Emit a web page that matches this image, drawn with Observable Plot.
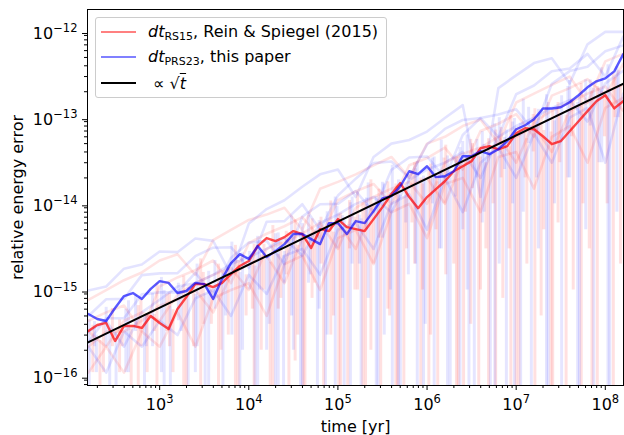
<!DOCTYPE html>
<html>
<head>
<meta charset="utf-8">
<script src="https://cdn.jsdelivr.net/npm/d3@7"></script>
<script src="https://cdn.jsdelivr.net/npm/@observablehq/plot@0.6"></script>
<style>
  html, body { margin: 0; padding: 0; background: white; }
  #wrap { position: relative; width: 624px; height: 435px; font-family: "DejaVu Sans", sans-serif; }
  #legend {
    position: absolute; left: 95px; top: 17px; width: 290px; height: 79px;
    border: 1px solid #cccccc; border-radius: 3px; background: rgba(255,255,255,0.8);
    font-size: 16px; color: #000;
  }
  .row { position: absolute; left: 0; height: 20px; display: flex; align-items: center; white-space: nowrap; }
  .sw { display: inline-block; width: 35px; height: 2px; margin-left: 5px; margin-right: 12px; }
  .row i { font-style: italic; }
  .row sub { font-size: 11px; vertical-align: -3px; }
  .sq { text-decoration: overline; font-style: italic; }
</style>
</head>
<body>
<div id="wrap">
  <div id="chart"></div>
  <div id="legend">
    <div class="row" style="top:4px"><span class="sw" style="background:#ff8080"></span><span><i>dt</i><sub>RS15</sub>, Rein &amp; Spiegel (2015)</span></div>
    <div class="row" style="top:29px"><span class="sw" style="background:#8080ff"></span><span><i>dt</i><sub>PRS23</sub>, this paper</span></div>
    <div class="row" style="top:55px"><span class="sw" style="background:#000"></span><span>&nbsp;∝ √<span class="sq">t</span></span></div>
  </div>
</div>
<script>
// ---- data ----
const timeBold = [158.5, 199.5, 251.2, 316.2, 398.1, 501.2, 631.0, 794.3,
  1.000e3, 1.259e3, 1.585e3, 1.995e3, 2.512e3, 3.162e3, 3.981e3, 5.012e3, 6.310e3, 7.943e3,
  1.000e4, 1.259e4, 1.585e4, 1.995e4, 2.512e4, 3.162e4, 3.981e4, 5.012e4, 6.310e4, 7.943e4,
  1.000e5, 1.259e5, 1.585e5, 1.995e5, 2.512e5, 3.162e5, 3.981e5, 5.012e5, 6.310e5, 7.943e5,
  1.000e6, 1.259e6, 1.585e6, 1.995e6, 2.512e6, 3.162e6, 3.981e6, 5.012e6, 6.310e6, 7.943e6,
  1.000e7, 1.259e7, 1.585e7, 1.995e7, 2.512e7, 3.162e7, 3.981e7, 5.012e7, 6.310e7, 7.943e7,
  1.000e8, 1.259e8, 1.585e8];

const boldPRS23 = [5.27e-16, 4.61e-16, 4.37e-16, 6.18e-16, 8.51e-16, 9.23e-16, 7.87e-16, 1.03e-15,
  1.27e-15, 1.21e-15, 9.23e-16, 9.74e-16, 1.21e-15, 1.17e-15, 7.87e-16, 1.34e-15, 2.05e-15, 2.61e-15,
  2.29e-15, 3.24e-15, 2.41e-15, 2.83e-15, 3.41e-15, 4.46e-15, 4.46e-15, 3.90e-15, 3.41e-15, 5.98e-15,
  5.98e-15, 4.46e-15, 6.31e-15, 5.98e-15, 8.23e-15, 1.16e-14, 1.23e-14, 1.60e-14, 2.39e-14, 2.21e-14,
  2.73e-14, 2.04e-14, 2.09e-14, 2.39e-14, 3.57e-14, 3.57e-14, 4.08e-14, 3.77e-14, 4.30e-14, 5.33e-14,
  7.34e-14, 8.17e-14, 9.58e-14, 1.28e-13, 1.28e-13, 1.32e-13, 1.51e-13, 1.82e-13, 2.25e-13, 2.64e-13,
  2.86e-13, 3.45e-13, 5.43e-13];

const boldRS15 = [3.35e-16, 3.93e-16, 4.15e-16, 2.56e-16, 3.83e-16, 3.83e-16, 3.63e-16, 5.0e-16,
  4.15e-16, 3.53e-16, 6.02e-16, 8.30e-16, 1.17e-15, 1.17e-15, 1.08e-15, 1.21e-15, 1.53e-15, 1.90e-15,
  2.17e-15, 3.24e-15, 4.01e-15, 3.70e-15, 4.11e-15, 4.83e-15, 4.46e-15, 3.07e-15, 5.09e-15, 4.83e-15,
  6.65e-15, 5.37e-15, 5.09e-15, 4.83e-15, 6.65e-15, 9.16e-15, 1.30e-14, 1.74e-14, 1.20e-14, 8.92e-15,
  1.20e-14, 1.48e-14, 1.83e-14, 2.39e-14, 2.73e-14, 3.13e-14, 4.42e-14, 4.67e-14, 4.30e-14, 4.67e-14,
  6.59e-14, 7.54e-14, 7.34e-14, 6.09e-14, 4.92e-14, 5.33e-14, 6.95e-14, 9.08e-14, 1.19e-13, 1.55e-13,
  1.82e-13, 1.28e-13, 1.55e-13];

// faint individual runs (upper parts), on a coarser time grid
const timeFaint = [158.5, 251.2, 398.1, 631.0,
  1.000e3, 1.585e3, 2.512e3, 3.981e3, 6.310e3,
  1.000e4, 1.585e4, 2.512e4, 3.981e4, 6.310e4,
  1.000e5, 1.585e5, 2.512e5, 3.981e5, 6.310e5,
  1.000e6, 1.585e6, 2.512e6, 3.981e6, 6.310e6,
  1.000e7, 1.585e7, 2.512e7, 3.981e7, 6.310e7,
  1.000e8, 1.585e8];

const blueFaint1 = [9.9e-16, 1.1e-15, 1.77e-15, 1.98e-15, 2.8e-15, 2.75e-15, 3.96e-15, 3.72e-15, 1.5e-15, 5.9e-15, 8.7e-15, 1.1e-14, 1.58e-14, 2.2e-14, 2.5e-14, 1.2e-14, 3.5e-14, 5e-14, 5.5e-14, 6.9e-14, 9.9e-14, 1.4e-13, 1.2e-14, 2.2e-13, 3.1e-13, 4.3e-13, 4.9e-13, 2.5e-13, 7.1e-13, 9.9e-13, 9.9e-13];
const blueFaint2 = [5e-16, 7.8e-16, 7.9e-16, 1.49e-15, 1.56e-15, 1.57e-15, 2.47e-15, 3.1e-15, 3.14e-15, 1.8e-15, 6.2e-15, 6.3e-15, 9.9e-15, 5e-15, 1.25e-14, 1.96e-14, 2.97e-14, 3.1e-14, 2e-14, 4.9e-14, 7.4e-14, 9.4e-14, 9.9e-14, 6e-14, 1.87e-13, 2.36e-13, 3.46e-13, 3.72e-13, 5.5e-13, 3e-13, 8.7e-13];
const blueFaint3 = [2.5e-16, 4.7e-16, 4.7e-16, 8.9e-16, 9.4e-16, 9.4e-16, 1.58e-15, 9e-16, 2.36e-15, 3.55e-15, 3.72e-15, 2e-15, 7.1e-15, 9.9e-15, 1.0e-14, 1.41e-14, 8e-15, 2.48e-14, 3.45e-14, 3.55e-14, 2e-14, 6.3e-14, 9.9e-14, 1.09e-13, 1.25e-13, 7e-14, 2.47e-13, 3.47e-13, 3.9e-13, 5.9e-13, 6.9e-13];
const blueFaint4 = [2.2e-16, 1.1e-16, 3.3e-16, 2.2e-16, 4.4e-16, 3e-16, 8e-16, 1.0e-15, 5e-16, 1.5e-15, 9e-16, 2.5e-15, 3e-15, 1.5e-15, 5e-15, 6e-15, 3e-15, 1.0e-14, 1.3e-14, 5e-15, 2.0e-14, 8e-15, 3.0e-14, 4.5e-14, 2e-14, 6.5e-14, 3e-14, 1.0e-13, 1.3e-13, 3e-14, 1.9e-13];
const blueFaint5 = [3.3e-16, 4.4e-16, 2.2e-16, 5.5e-16, 7.7e-16, 1.1e-15, 1.2e-15, 1.5e-15, 2e-15, 2.4e-15, 3e-15, 4e-15, 2.5e-15, 6e-15, 7.5e-15, 1e-14, 1.2e-14, 8e-15, 1.9e-14, 2.5e-14, 3e-14, 4e-14, 2e-14, 6e-14, 8e-14, 1e-13, 1.3e-13, 1.6e-13, 9e-14, 2.5e-13, 3.5e-13];

const redFaint1 = [7.7e-16, 1.0e-15, 1.3e-15, 1.6e-15, 2.2e-15, 2.6e-15, 1.5e-15, 3.8e-15, 5e-15, 6.5e-15, 7.5e-15, 9e-15, 5e-15, 1.5e-14, 1.8e-14, 2.2e-14, 2.8e-14, 3.5e-14, 2e-14, 5e-14, 6e-14, 8e-14, 9.5e-14, 5e-14, 1.5e-13, 1.9e-13, 2.4e-13, 3e-13, 1.5e-13, 4.5e-13, 5.5e-13];
const redFaint2 = [4.4e-16, 5.5e-16, 6.6e-16, 3.3e-16, 1.1e-15, 1.4e-15, 1.7e-15, 2.2e-15, 1.2e-15, 3.5e-15, 4.5e-15, 5.5e-15, 7e-15, 4e-15, 1.1e-14, 1.4e-14, 1.7e-14, 1e-14, 2.8e-14, 3.4e-14, 4.5e-14, 2.5e-14, 7e-14, 8.5e-14, 1.1e-13, 6e-14, 1.8e-13, 2.2e-13, 2.8e-13, 1.8e-13, 4.2e-13];
const redFaint3 = [3.3e-16, 2.2e-16, 4.4e-16, 5.5e-16, 4.4e-16, 8.8e-16, 1.2e-15, 1.5e-15, 1.8e-15, 1e-15, 3e-15, 3.6e-15, 4.5e-15, 6e-15, 3e-15, 9e-15, 1.2e-14, 1.5e-14, 1.8e-14, 1e-14, 3e-14, 3.8e-14, 4.5e-14, 6e-14, 3e-14, 9e-14, 1.2e-13, 1.5e-13, 1.9e-13, 2.3e-13, 1.2e-13];
const redFaint4 = [1.1e-16, 2.2e-16, 1.1e-16, 3.3e-16, 2.2e-16, 5.5e-16, 2.2e-16, 8e-16, 1e-15, 1.2e-15, 5e-16, 2e-15, 2.5e-15, 1e-15, 4e-15, 5e-15, 2e-15, 8e-15, 1e-14, 4e-15, 1.7e-14, 2e-14, 8e-15, 3.5e-14, 4e-14, 1.5e-14, 6e-14, 8e-14, 3e-14, 1.3e-13, 1.7e-13];
const redFaint5 = [2.2e-16, 3.3e-16, 3.3e-16, 4.4e-16, 6.6e-16, 7.7e-16, 1e-15, 5.5e-16, 1.5e-15, 2e-15, 2.5e-15, 1.2e-15, 4e-15, 5e-15, 6e-15, 3e-15, 1e-14, 1.3e-14, 1.6e-14, 2e-14, 1e-14, 3.2e-14, 4e-14, 5e-14, 6e-14, 8e-14, 4e-14, 1.2e-13, 1.5e-13, 2e-13, 2.4e-13];

// sign changes / dips of the runs: near-vertical drops
// (time, value before the drop, lowest value reached; 5e-17 = below the axis)
const dropTimeRed = [178, 214, 295, 355, 479, 617, 724, 933, 1202, 1413, 1862, 2399, 2884, 3802, 4571, 5888, 7079, 9333,
  1.148e4, 1.380e4, 1.862e4, 2.138e4, 2.818e4, 3.311e4, 4.266e4, 5.129e4, 6.918e4, 8.318e4,
  1.072e5, 1.288e5, 1.660e5, 2.042e5, 2.344e5, 3.020e5, 3.631e5, 4.677e5, 5.495e5, 7.244e5, 8.511e5,
  1.096e6, 1.318e6, 1.622e6, 2.138e6, 2.570e6, 3.090e6, 3.802e6, 4.571e6, 5.888e6, 7.079e6, 8.710e6,
  1.072e7, 1.318e7, 1.622e7, 1.905e7, 2.455e7, 2.951e7, 3.631e7, 4.365e7, 5.370e7, 6.607e7, 8.128e7,
  1.047e8, 1.230e8, 1.479e8,
  234, 380, 575, 871, 1288, 1995, 3090, 4898, 7586,
  1.096e4, 1.479e4, 1.738e4, 2.291e4, 2.630e4, 3.548e4, 4.074e4, 5.495e4, 6.457e4, 8.913e4,
  1.023e5, 1.349e5, 1.549e5, 1.905e5, 2.512e5, 2.884e5, 3.802e5, 4.467e5, 5.888e5, 6.761e5, 8.913e5,
  1.047e6, 1.259e6, 1.549e6, 1.995e6, 2.239e6, 2.692e6, 3.236e6, 3.981e6, 4.898e6, 5.495e6, 6.761e6, 8.318e6,
  1.0e7, 1.259e7, 1.549e7, 2.042e7, 2.570e7, 3.090e7, 4.169e7, 5.623e7, 7.079e7, 9.772e7,
  1.288e8];
const dropTopRed = [3.9e-16, 2.6e-16, 6.1e-16, 4.5e-16, 3.5e-16, 7.8e-16, 5.3e-16, 1.2e-15, 8.9e-16, 5.9e-16, 1.45e-15, 1.06e-15, 2.3e-15, 1.1e-15, 2.0e-15, 1.8e-15, 3.3e-15, 1.5e-15,
  3.4e-15, 2.55e-15, 5.6e-15, 2.6e-15, 4.6e-15, 6.5e-15, 4.1e-15, 6.7e-15, 4.2e-15, 1.08e-14,
  7.8e-15, 5.0e-15, 1.37e-14, 9.8e-15, 1.9e-14, 9.7e-15, 1.8e-14, 1.6e-14, 1.2e-14, 3.0e-14, 2.0e-14,
  2.9e-14, 1.8e-14, 4.8e-14, 3.5e-14, 2.8e-14, 5.6e-14, 4.2e-14, 3.0e-14, 7.2e-14, 5.3e-14, 1.05e-13,
  7.8e-14, 5.7e-14, 1.27e-13, 8.6e-14, 6.8e-14, 1.5e-13, 1.07e-13, 1.56e-13, 2.5e-13, 1.28e-13, 2.3e-13,
  1.8e-13, 3.3e-13, 2.4e-13,
  3.9e-16, 3.8e-16, 6.6e-16, 5.2e-16, 9.2e-16, 8.8e-16, 1.6e-15, 1.25e-15, 2.2e-15,
  2.1e-15, 3.4e-15, 2.1e-15, 3.6e-15, 4.8e-15, 3.3e-15, 4.8e-15, 4.6e-15, 7.0e-15, 4.7e-15,
  7.6e-15, 1.09e-14, 7.0e-15, 1.03e-14, 9.9e-15, 1.48e-14, 9.7e-15, 1.7e-14, 1.5e-14, 2.4e-14, 1.7e-14,
  2.4e-14, 2.2e-14, 3.4e-14, 2.2e-14, 3.5e-14, 3.2e-14, 5.0e-14, 3.5e-14, 5.7e-14, 4.6e-14, 7.7e-14, 4.6e-14,
  7.5e-14, 7.0e-14, 1.09e-13, 7.1e-14, 1.2e-13, 1.1e-13, 1.65e-13, 1.33e-13, 2.0e-13, 1.95e-13,
  2.9e-13];
const dropLowRed = [1.1e-16, 5e-17, 2.2e-16, 1.1e-16, 5e-17, 2.2e-16, 1.1e-16, 5e-17, 3.3e-16, 1.1e-16, 5e-17, 2.2e-16, 5e-17, 4e-16, 5e-17, 3e-16, 5e-17, 5e-16,
  5e-17, 2e-16, 5e-17, 6e-16, 5e-17, 1.5e-16, 5e-17, 8e-16, 5e-17, 3e-16,
  5e-17, 5e-17, 1e-15, 5e-17, 2e-16, 5e-17, 6e-16, 5e-17, 5e-17, 2e-15, 5e-17,
  3e-16, 5e-17, 1.5e-15, 5e-17, 5e-17, 4e-16, 5e-17, 3e-15, 5e-17, 8e-16, 5e-17,
  5e-17, 2e-15, 5e-17, 5e-16, 5e-17, 6e-15, 5e-17, 1e-15, 5e-17, 3e-15, 5e-17,
  1e-14, 5e-17, 2e-15,
  1.1e-16, 2.2e-16, 5e-17, 3.3e-16, 2.2e-16, 5e-17, 4e-16, 2e-16, 5e-17,
  6e-16, 1e-15, 5e-17, 8e-16, 1.5e-15, 3e-16, 5e-17, 1.2e-15, 2e-15, 5e-16,
  5e-17, 3e-15, 1e-15, 5e-17, 2e-15, 4e-15, 5e-16, 5e-17, 3e-15, 6e-15, 1e-15,
  5e-17, 5e-15, 1e-14, 2e-15, 5e-17, 8e-15, 1.5e-14, 1e-15, 5e-17, 1e-14, 2e-14, 3e-15,
  5e-17, 2e-14, 4e-14, 5e-15, 5e-17, 3e-14, 6e-14, 1e-14, 5e-17, 6e-14,
  1e-13];

const dropTimeBlue = [162, 195, 251, 324, 417, 537, 676, 832, 1047, 1318, 1622, 2089, 2630, 3236, 4169, 5129, 6457, 7943,
  1.023e4, 1.259e4, 1.585e4, 1.995e4, 2.455e4, 3.020e4, 3.802e4, 4.677e4, 5.888e4, 7.586e4, 9.333e4,
  1.175e5, 1.445e5, 1.820e5, 2.188e5, 2.692e5, 3.311e5, 4.074e5, 5.012e5, 6.166e5, 7.762e5, 9.550e5,
  1.202e6, 1.445e6, 1.820e6, 2.344e6, 2.818e6, 3.388e6, 4.169e6, 5.129e6, 6.457e6, 7.762e6, 9.550e6,
  1.202e7, 1.479e7, 1.778e7, 2.188e7, 2.692e7, 3.236e7, 3.981e7, 4.898e7, 6.026e7, 7.413e7, 9.120e7,
  1.122e8, 1.349e8,
  186, 275, 447, 708, 1122, 1738, 2512, 3548, 5495, 8511,
  1.175e4, 1.318e4, 1.698e4, 2.138e4, 2.512e4, 3.162e4, 3.981e4, 4.898e4, 6.166e4, 7.244e4, 9.772e4,
  1.122e5, 1.380e5, 1.738e5, 2.089e5, 2.818e5, 3.162e5, 3.890e5, 4.786e5, 5.754e5, 7.413e5, 9.120e5,
  1.148e6, 1.380e6, 1.698e6, 2.089e6, 2.512e6, 2.951e6, 3.631e6, 4.365e6, 5.754e6, 7.413e6, 9.120e6,
  1.122e7, 1.380e7, 1.698e7, 2.291e7, 2.818e7, 3.802e7, 5.129e7, 6.761e7, 8.511e7,
  1.072e8, 1.413e8];
const dropTopBlue = [4.5e-16, 3.0e-16, 6.3e-16, 3.2e-16, 6.0e-16, 8.7e-16, 5.1e-16, 9.1e-16, 1.4e-15, 6.4e-16, 1.2e-15, 1.08e-15, 2.0e-15, 9.0e-16, 2.2e-15, 1.55e-15, 3.6e-15, 1.6e-15,
  2.8e-15, 4.2e-15, 2.5e-15, 4.5e-15, 2.5e-15, 7.2e-15, 4.6e-15, 7.3e-15, 4.3e-15, 8.1e-15, 1.2e-14,
  6.8e-15, 1.2e-14, 6.7e-15, 1.75e-14, 1.22e-14, 1.7e-14, 2.8e-14, 1.26e-14, 2.2e-14, 3.1e-14, 1.93e-14,
  3.5e-14, 5.5e-14, 2.4e-14, 4.5e-14, 6.3e-14, 4.0e-14, 6.9e-14, 4.0e-14, 1.0e-13, 7.2e-14, 9.8e-14,
  1.64e-13, 7.6e-14, 1.25e-13, 1.85e-13, 9.2e-14, 1.8e-13, 2.7e-13, 1.5e-13, 2.75e-13, 2.2e-13, 3.8e-13,
  2.1e-13, 3.9e-13,
  4.3e-16, 3.6e-16, 7.5e-16, 5.2e-16, 9.9e-16, 9.9e-16, 8.9e-16, 1.65e-15, 1.6e-15, 2.7e-15,
  1.9e-15, 2.9e-15, 2.6e-15, 4.6e-15, 2.8e-15, 4.2e-15, 5.9e-15, 4.4e-15, 6.4e-15, 4.8e-15, 9.3e-15,
  7.3e-15, 1.03e-14, 7.4e-15, 1.17e-14, 1.05e-14, 1.78e-14, 1.35e-14, 1.9e-14, 1.35e-14, 2.55e-14, 2.1e-14,
  3.4e-14, 2.3e-14, 3.6e-14, 3.4e-14, 5.3e-14, 3.4e-14, 5.6e-14, 4.9e-14, 8.5e-14, 5.9e-14, 8.9e-14,
  8.6e-14, 1.32e-13, 8.9e-14, 1.5e-13, 1.26e-13, 2.3e-13, 1.83e-13, 2.75e-13, 2.2e-13,
  4.1e-13, 3.5e-13];
const dropLowBlue = [5e-17, 1.1e-16, 2.2e-16, 5e-17, 1.1e-16, 3.3e-16, 5e-17, 2.2e-16, 1.1e-16, 5e-17, 4.4e-16, 5e-17, 2.2e-16, 5e-17, 6e-16, 5e-17, 3e-16, 5e-17,
  1e-15, 5e-17, 2e-16, 5e-17, 5e-17, 5e-16, 5e-17, 1.2e-15, 5e-17, 3e-16, 5e-17,
  5e-17, 2e-15, 5e-17, 8e-16, 5e-17, 3e-16, 5e-17, 5e-17, 1.5e-15, 5e-17, 4e-16,
  5e-17, 3e-15, 5e-17, 5e-17, 1e-15, 5e-17, 6e-15, 5e-17, 2e-15, 5e-17, 5e-17,
  8e-15, 5e-17, 3e-15, 5e-17, 1e-14, 5e-17, 2e-14, 5e-17, 5e-15, 5e-17, 3e-14,
  5e-17, 8e-15,
  2.2e-16, 5e-17, 1.1e-16, 2.2e-16, 5e-17, 3.3e-16, 1.1e-16, 5e-17, 5e-16, 2e-16,
  5e-17, 1e-15, 4e-16, 5e-17, 1.2e-15, 2e-16, 5e-17, 1.5e-15, 6e-16, 5e-17, 3e-15,
  8e-16, 5e-17, 2e-15, 5e-15, 5e-17, 4e-15, 1e-15, 5e-17, 6e-15, 2e-15, 5e-17,
  1e-14, 3e-15, 5e-17, 1.2e-14, 5e-15, 5e-17, 2e-14, 8e-15, 5e-17, 2.5e-14, 1e-14,
  5e-17, 5e-14, 2e-14, 5e-17, 5e-14, 2e-14, 5e-17, 8e-14, 3e-14,
  5e-17, 1e-13];

// reference ∝ sqrt(t) line, end points
const sqrtT = [155, 1.6e8];
const sqrtErr = [2.45e-16, 2.49e-13];

const xMajor = [1e3, 1e4, 1e5, 1e6, 1e7, 1e8];
const yMajor = [1e-16, 1e-15, 1e-14, 1e-13, 1e-12];
const xDomain = [155, 1.6e8];
const yDomain = [7.8e-17, 1.8e-12];

// ---- build ----
const minorTicks = (lo, hi) => {
  const out = [];
  for (let e = Math.floor(Math.log10(lo)); e <= Math.ceil(Math.log10(hi)); e++)
    for (let m = 2; m <= 9; m++) { const v = m * Math.pow(10, e); if (v >= lo && v <= hi) out.push(v); }
  return out;
};
const fmt = d => "10^" + Math.round(Math.log10(d));
const pairs = (ts, vs) => ts.map((t, i) => ({t, e: vs[i]}));
const drops = (ts, tops, lows) => ts.map((t, i) => ({t, top: tops[i], low: lows[i]}));

const faintRuns = [
  [redFaint1, "#ff0000"], [blueFaint1, "#0000ff"],
  [redFaint2, "#ff0000"], [blueFaint2, "#0000ff"],
  [redFaint3, "#ff0000"], [blueFaint3, "#0000ff"],
  [redFaint4, "#ff0000"], [blueFaint4, "#0000ff"],
  [redFaint5, "#ff0000"], [blueFaint5, "#0000ff"]
];

const chart = Plot.plot({
  width: 624, height: 435,
  marginLeft: 87, marginRight: 1, marginTop: 9, marginBottom: 50,
  style: {fontFamily: "DejaVu Sans, sans-serif", fontSize: "16px", background: "white", color: "black"},
  x: {type: "log", domain: xDomain},
  y: {type: "log", domain: yDomain},
  marks: [
    Plot.ruleX(drops(dropTimeRed, dropTopRed, dropLowRed), {x: "t", y1: "low", y2: "top", stroke: "#ff0000", strokeOpacity: 0.12, strokeWidth: 3, clip: true}),
    Plot.ruleX(drops(dropTimeBlue, dropTopBlue, dropLowBlue), {x: "t", y1: "low", y2: "top", stroke: "#0000ff", strokeOpacity: 0.1, strokeWidth: 3, clip: true}),
    ...faintRuns.map(([vals, c]) => Plot.line(pairs(timeFaint, vals), {x: "t", y: "e", stroke: c, strokeOpacity: 0.11, strokeWidth: 2.6, clip: true})),
    Plot.line(pairs(timeBold, boldRS15), {x: "t", y: "e", stroke: "#ff0000", strokeOpacity: 0.7, strokeWidth: 2.4, clip: true}),
    Plot.line(pairs(timeBold, boldPRS23), {x: "t", y: "e", stroke: "#0000ff", strokeOpacity: 0.65, strokeWidth: 2.4, clip: true}),
    Plot.line(pairs(sqrtT, sqrtErr), {x: "t", y: "e", stroke: "black", strokeWidth: 2, clip: true}),
    Plot.axisX({ticks: minorTicks(xDomain[0], xDomain[1]), tickSize: 3, tickFormat: () => "", label: null}),
    Plot.axisX({ticks: xMajor, tickSize: 5, tickPadding: 8, tickFormat: fmt, fontSize: 16, label: null}),
    Plot.axisY({ticks: minorTicks(yDomain[0], yDomain[1]), tickSize: 3, tickFormat: () => "", label: null}),
    Plot.axisY({ticks: yMajor, tickSize: 5, tickPadding: 5, tickFormat: fmt, fontSize: 16, dy: 2, label: null}),
    Plot.frame({stroke: "black", strokeWidth: 1}),
    Plot.text(["time [yr]"], {frameAnchor: "bottom", lineAnchor: "middle", dy: 41, fontSize: 16, text: d => d}),
    Plot.text(["relative energy error"], {frameAnchor: "left", textAnchor: "middle", lineAnchor: "middle", dx: -70, rotate: -90, fontSize: 16, text: d => d})
  ]
});

// power-of-ten tick labels: exponent as a raised, smaller tspan
const svgNS = "http://www.w3.org/2000/svg";
chart.querySelectorAll("text").forEach(t => {
  const s = t.textContent;
  if (!s.includes("^")) return;
  const [base, exp] = s.split("^");
  t.textContent = base;
  const ts = document.createElementNS(svgNS, "tspan");
  ts.setAttribute("dy", "-6.5");
  ts.setAttribute("font-size", "11.5");
  ts.textContent = exp.replace("-", "\u2212");
  t.appendChild(ts);
});
document.getElementById("chart").appendChild(chart);
</script>
</body>
</html>
